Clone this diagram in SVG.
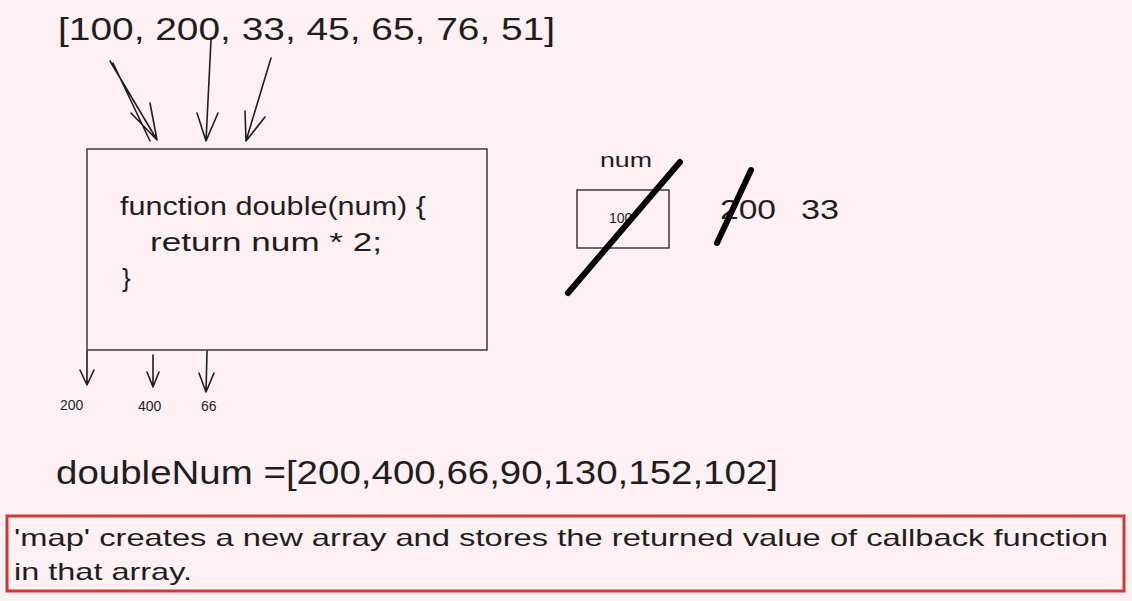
<svg xmlns="http://www.w3.org/2000/svg" width="1132" height="601" viewBox="0 0 1132 601">
<style>
text{font-family:"Liberation Sans","DejaVu Sans",sans-serif;fill:#1e1e1e}
.arr{stroke:#1e1e1e;stroke-width:1.6;fill:none;stroke-linecap:round;stroke-linejoin:round}
.box{stroke:#1e1e1e;stroke-width:1.3;fill:none}
.strike{stroke:#000;stroke-width:6;fill:none;stroke-linecap:round}
</style>
<rect x="0" y="0" width="1132" height="601" fill="#fff0f3"/>

<g id="input-array">
<text x="58" y="40" font-size="32" textLength="497" lengthAdjust="spacingAndGlyphs">[100, 200, 33, 45, 65, 76, 51]</text>
</g>

<g id="function-box">
<rect class="box" x="87" y="149" width="400" height="201"/>
<text x="120" y="215" font-size="26" textLength="306" lengthAdjust="spacingAndGlyphs">function double(num) {</text>
<text x="150" y="251" font-size="26" textLength="232" lengthAdjust="spacingAndGlyphs">return num * 2;</text>
<text x="122" y="287" font-size="26">}</text>
</g>

<g id="num-var">
<text x="600" y="167" font-size="20" textLength="52" lengthAdjust="spacingAndGlyphs">num</text>
<rect class="box" x="577" y="190" width="92" height="58" stroke-width="2"/>
<text x="609" y="223" font-size="14">100</text>
</g>

<g id="next-values">
<text x="720" y="219" font-size="28" textLength="56" lengthAdjust="spacingAndGlyphs">200</text>
<text x="801" y="219" font-size="28" textLength="38" lengthAdjust="spacingAndGlyphs">33</text>
</g>

<g id="strikes">
<line class="strike" x1="568" y1="293" x2="680" y2="162"/>
<line class="strike" x1="717" y1="243" x2="751" y2="170"/>
</g>

<g id="outputs">
<text x="60" y="410" font-size="14">200</text>
<text x="138" y="411" font-size="14">400</text>
<text x="201" y="411" font-size="14">66</text>
</g>

<g id="result">
<text x="56" y="484" font-size="34" textLength="722" lengthAdjust="spacingAndGlyphs">doubleNum =[200,400,66,90,130,152,102]</text>
</g>

<g id="note">
<rect x="7" y="516" width="1117" height="75" fill="none" stroke="#d03838" stroke-width="3"/>
<text x="14" y="546" font-size="24" textLength="1094" lengthAdjust="spacingAndGlyphs">'map' creates a new array and stores the returned value of callback function</text>
<text x="14" y="580" font-size="24" textLength="178" lengthAdjust="spacingAndGlyphs">in that array.</text>
</g>

<g id="connectors">
<path class="arr" d="M110 61 L157 140 M113 63 L150 141 M131 113 L157 140 L150 103"/>
<path class="arr" d="M211 40 L206 141 M197 113 L206 141 L218 113"/>
<path class="arr" d="M271 58 L246 141 M245 111 L246 141 L265 117"/>
<path class="arr" d="M87 351 L87 385 M80 370 L87 385 L94 370"/>
<path class="arr" d="M153 355 L153 387 M147 372 L153 387 L159 372"/>
<path class="arr" d="M207 351 L206 392 M199 373 L206 392 L214 373"/>
</g>
</svg>
